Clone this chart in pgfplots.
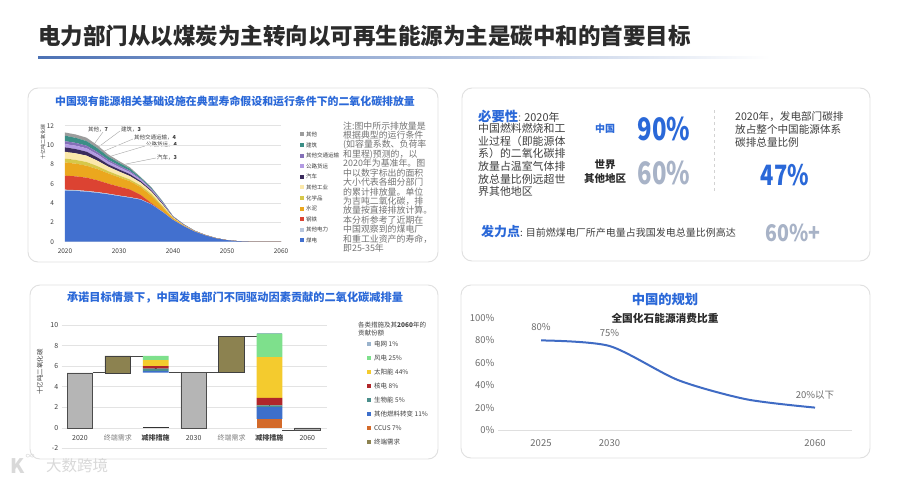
\documentclass[border=0pt]{standalone}
\usepackage{fontspec}
\setmainfont{Noto Sans CJK SC}
\usepackage{graphicx}
\usepackage{pgfplots}
\usepackage{pgfplotstable}
\pgfplotsset{compat=1.18}
\usetikzlibrary{arrows.meta}

\definecolor{ttl}{HTML}{2B2B2B}
\definecolor{hblue}{HTML}{2A68D8}
\definecolor{txt}{HTML}{404040}
\definecolor{pale}{HTML}{A8B3C7}
\definecolor{panel}{HTML}{E0E0E0}
% area colours
\definecolor{cCoal}{HTML}{4270CF}
\definecolor{cOPow}{HTML}{B9C7DD}
\definecolor{cSteel}{HTML}{DC4332}
\definecolor{cCement}{HTML}{EBA71E}
\definecolor{cChem}{HTML}{D6C84A}
\definecolor{cOInd}{HTML}{FBE8AA}
\definecolor{cCar}{HTML}{3A2B5C}
\definecolor{cTruck}{HTML}{B39BE3}
\definecolor{cOTrans}{HTML}{8470B8}
\definecolor{cBldg}{HTML}{3B8E86}
\definecolor{cOther}{HTML}{9C9C9C}
% bar colours
\definecolor{bGray}{HTML}{B5B5B5}
\definecolor{bOlive}{HTML}{8C8250}
\definecolor{bWind}{HTML}{7EE08C}
\definecolor{bSolar}{HTML}{F4CB2E}
\definecolor{bNuc}{HTML}{B0262A}
\definecolor{bBio}{HTML}{4B8F8C}
\definecolor{bFuel}{HTML}{3D6FCB}
\definecolor{bCCUS}{HTML}{D36A2A}
\definecolor{bGrid}{HTML}{9AB3CC}
\definecolor{lineblue}{HTML}{3F6BC4}

\newcommand{\fs}[1]{\fontsize{#1}{#1}\selectfont}

% emissions by sector, Gt CO2 (layer thickness)
\pgfplotstableread{
yr coal opow steel cement chem oind car truck otrans bldg other
2020 5.28 0.10 1.45 1.37 0.40 0.70 0.46 0.34 0.30 0.57 0.33
2022 5.25 0.09 1.42 1.31 0.39 0.68 0.44 0.35 0.29 0.52 0.35
2024 5.17 0.08 1.37 1.24 0.38 0.66 0.41 0.35 0.27 0.47 0.36
2026 5.05 0.08 1.22 1.16 0.31 0.56 0.33 0.32 0.24 0.40 0.30
2028 4.90 0.07 1.03 1.07 0.23 0.46 0.24 0.28 0.20 0.32 0.23
2030 4.72 0.06 0.92 0.96 0.20 0.40 0.22 0.24 0.17 0.27 0.19
2032 4.55 0.06 0.80 0.85 0.18 0.35 0.20 0.20 0.15 0.22 0.14
2034 4.35 0.05 0.45 0.80 0.17 0.30 0.15 0.14 0.10 0.13 0.06
2036 3.85 0.03 0.10 0.75 0.20 0.25 0.12 0.10 0.08 0.10 0.05
2038 3.10 0.03 0.02 0.45 0.12 0.18 0.10 0.08 0.06 0.07 0.04
2040 2.25 0.02 0.00 0.15 0.05 0.06 0.04 0.03 0.02 0.02 0.01
2042 1.60 0.01 0.00 0.06 0.02 0.04 0.03 0.02 0.01 0.01 0.00
2044 1.05 0.01 0.00 0.02 0.01 0.02 0.01 0.01 0.00 0.01 0.00
2046 0.65 0.01 0.00 0.01 0.00 0.01 0.01 0.01 0.00 0.00 0.00
2048 0.34 0.00 0.00 0.01 0.00 0.01 0.01 0.00 0.00 0.00 0.00
2050 0.16 0 0 0 0 0 0 0 0 0 0
2052 0.06 0 0 0 0 0 0 0 0 0 0
2054 0.02 0 0 0 0 0 0 0 0 0 0
2056 0.005 0 0 0 0 0 0 0 0 0 0
2058 0 0 0 0 0 0 0 0 0 0 0
2060 0 0 0 0 0 0 0 0 0 0 0
}\emis

% waterfall: 2020, demand, measures, 2030, demand, measures, 2060
\pgfplotstableread{
x base total ccus fuel bio nuc solar wind grid demand
0 0 5.35 0 0 0 0 0 0 0 0
1 5.35 0 0 0 0 0 0 0 0 1.65
2 5.36 0 0 0.15 0.24 0.25 0.57 0.43 0 0
3 0 5.40 0 0 0 0 0 0 0 0
4 5.40 0 0 0 0 0 0 0 0 3.50
5 -0.29 0 0.87 1.14 0.16 0.75 3.96 2.27 0.04 0
6 0 -0.22 0 0 0 0 0 0 0 0
}\wf

\pgfplotsset{every axis/.append style={/pgf/number format/assume math mode=true}}

\begin{document}
\begin{tikzpicture}
\begin{scope}[x=1pt,y=-1pt]
\fill[white] (0,0) rectangle (900,482);
\useasboundingbox (0,0) rectangle (900,482);

% main title
\node[anchor=west, inner sep=0, text=ttl, font=\fs{22.5}\bfseries] at (38,36) {电力部门从以煤炭为主转向以可再生能源为主是碳中和的首要目标};
\shade[left color=hblue!60!gray, right color=white] (38,56) rectangle (770,58);

% panels
\foreach \a/\b/\c/\d in {28/88/438/262, 462/88/870/261, 30/285/438/459, 461/285/870/458}{
  \draw[panel, line width=0.9pt, rounded corners=10pt, fill=white] (\a,\b) rectangle (\c,\d);
}

% ---- top left panel
\node[text=hblue, font=\fs{10.9}\bfseries] at (235,101) {中国现有能源相关基础设施在典型寿命假设和运行条件下的二氧化碳排放量};
\node[rotate=90, text=txt, font=\fs{5}] at (43,142) {十亿吨二氧化碳};
\foreach \n/\c [count=\i from 0] in {其他/cOther, 建筑/cBldg, 其他交通运输/cOTrans, 公路货运/cTruck, 汽车/cCar, 其他工业/cOInd, 化学品/cChem, 水泥/cCement, 钢铁/cSteel, 其他电力/cOPow, 煤电/cCoal}{
  \fill[\c] (300,{132.3+10.6*\i}) rectangle ++(4,4);
  \node[anchor=west, inner sep=0, text=txt, font=\fs{5.5}] at (306,{134.3+10.6*\i}) {\n};
}
\foreach \t [count=\i from 0] in {{注:图中所示排放量是}, {根据典型的运行条件}, {(如容量系数、负荷率}, {和里程)预测的，以}, {2020年为基准年。图}, {中以数字标出的面积}, {大小代表各细分部门}, {的累计排放量。单位}, {为吉吨二氧化碳，排}, {放量按直接排放计算。}, {本分析参考了近期在}, {中国观察到的煤电厂}, {和重工业资产的寿命，}, {即25-35年}}{
  \node[anchor=base west, inner sep=0, text=gray!90!black, font=\fs{8.9}] at (343,{129.1+9.43*\i}) {\t};
}
% callouts
\draw[gray!70, line width=0.4pt] (103,132) -- (92,147);
\draw[gray!70, line width=0.4pt] (120,131) -- (97,148);
\draw[gray!70, line width=0.4pt] (133,139) -- (102,152);
\draw[gray!70, line width=0.4pt] (145,146) -- (108,157);
\draw[gray!70, line width=0.4pt] (156,158) -- (116,166);
\begin{scope}[font=\fs{5.5}, text=txt, inner sep=0]
\node[anchor=west] at (88,129) {其他，\textbf{7}};
\node[anchor=west] at (121,129) {建筑，\textbf{3}};
\node[anchor=west] at (134,137) {其他交通运输，\textbf{4}};
\node[anchor=west] at (146,144) {公路货运，\textbf{4}};
\node[anchor=west] at (157,157) {汽车，\textbf{3}};
\end{scope}

% ---- top right panel
\node[anchor=base west, inner sep=0] at (478,121) {{\fs{13.3}\bfseries\color{hblue}必要性}{\fs{10.9}\color{gray}: }{\fs{10.9}\color{txt}2020年}};
\foreach \t [count=\i from 1] in {{中国燃料燃烧和工}, {业过程（即能源体}, {系）的二氧化碳排}, {放量占温室气体排}, {放总量比例远超世}, {界其他地区}}{
  \node[anchor=base west, inner sep=0, text=txt, font=\fs{10.9}] at (478,{120.1+12.6*\i}) {\t};
}
\node[text=hblue, font=\fs{10}\bfseries] at (605,128.3) {中国};
\node[text=ttl, font=\fs{10.5}\bfseries] at (605,165) {世界};
\node[text=ttl, font=\fs{10.5}\bfseries] at (605,179) {其他地区};
\node[text=hblue, font=\fs{31}\bfseries] at (664,129) {\scalebox{0.77}[1]{90\%}};
\node[text=pale, font=\fs{31}\bfseries] at (664,173) {\scalebox{0.77}[1]{60\%}};
\draw[gray!35, dashed, line width=0.7pt] (714,110) -- (714,193);
\foreach \t [count=\i from 0] in {{2020年，发电部门碳排}, {放占整个中国能源体系}, {碳排总量比例}}{
  \node[anchor=base west, inner sep=0, text=txt, font=\fs{10.6}] at (735,{120.7+12.8*\i}) {\t};
}
\node[text=hblue, font=\fs{28}\bfseries] at (785,175) {\scalebox{0.78}[1]{47\%}};
\node[anchor=base west, inner sep=0] at (481,236.6) {{\fs{13}\bfseries\color{hblue}发力点}{\fs{10}\color{txt}: 目前燃煤电厂所产电量占我国发电总量比例高达}};
\node[text=pale, font=\fs{23}\bfseries] at (793,233) {\scalebox{0.85}[1]{60\%+}};

% ---- bottom left panel
\node[text=hblue, font=\fs{11.2}\bfseries] at (235,297.3) {承诺目标情景下，中国发电部门不同驱动因素贡献的二氧化碳减排量};
\node[rotate=90, text=txt, font=\fs{6.5}] at (40,372) {十亿吨二氧化碳};
\node[anchor=west, inner sep=0, text=txt, font=\fs{6.5}] at (358,325) {各类措施及其\textbf{2060}年的};
\node[anchor=west, inner sep=0, text=txt, font=\fs{6.5}] at (358,333.5) {贡献份额};
\foreach \n/\c [count=\i from 0] in {电网 1\%/bGrid, 风电 25\%/bWind, 太阳能 44\%/bSolar, 核电 8\%/bNuc, 生物能 5\%/bBio, 其他燃料转变 11\%/bFuel, CCUS 7\%/bCCUS, 终端需求/bOlive}{
  \fill[\c] (367,{342.3+13.9*\i}) rectangle ++(4,4);
  \node[anchor=west, inner sep=0, text=txt, font=\fs{6.5}] at (374,{344.3+13.9*\i}) {\n};
}

% ---- bottom right panel
\node[text=hblue, font=\fs{13.3}\bfseries] at (665,299) {中国的规划};
\node[text=ttl, font=\fs{10.7}\bfseries] at (665,318) {全国化石能源消费比重};

% watermark
\node[text=gray!30, font=\fs{20}\bfseries] at (18,466) {K};
\node[text=gray!30, font=\fs{9}] at (30,457) {∞};
\node[anchor=west, inner sep=0, text=gray!30, font=\fs{15.5}] at (46,466) {大数跨境};
\end{scope}

% ---- stacked area chart
\begin{axis}[at={(65pt,-241.7pt)}, anchor=south west, scale only axis,
  width=216pt, height=116pt,
  xmin=2020, xmax=2060, ymin=0, ymax=12, stack plots=y,
  xtick={2020,2030,2040,2050,2060}, xticklabels={2020,2030,2040,2050,2060},
  ytick={0,2,...,12},
  axis line style={draw=none}, major tick length=0pt,
  ymajorgrids, grid style={gray!22, line width=0.5pt},
  tick label style={font=\fs{6.5}, text=txt},
  xticklabel style={yshift=-3.5pt}, yticklabel style={xshift=-7.5pt},
  clip=false]
\addplot[fill=cCoal, draw=none] table[x=yr,y=coal]{\emis} \closedcycle;
\addplot[fill=cOPow, draw=none] table[x=yr,y=opow]{\emis} \closedcycle;
\addplot[fill=cSteel, draw=none] table[x=yr,y=steel]{\emis} \closedcycle;
\addplot[fill=cCement, draw=none] table[x=yr,y=cement]{\emis} \closedcycle;
\addplot[fill=cChem, draw=none] table[x=yr,y=chem]{\emis} \closedcycle;
\addplot[fill=cOInd, draw=none] table[x=yr,y=oind]{\emis} \closedcycle;
\addplot[fill=cCar, draw=none] table[x=yr,y=car]{\emis} \closedcycle;
\addplot[fill=cTruck, draw=none] table[x=yr,y=truck]{\emis} \closedcycle;
\addplot[fill=cOTrans, draw=none] table[x=yr,y=otrans]{\emis} \closedcycle;
\addplot[fill=cBldg, draw=none] table[x=yr,y=bldg]{\emis} \closedcycle;
\addplot[fill=cOther, draw=none] table[x=yr,y=other]{\emis} \closedcycle;
\node[text=white, font=\fs{6}] at (axis cs:2024.3,2.6) {101};
\node[text=white, font=\fs{5}] at (axis cs:2022.2,5.2) {3};
\node[text=red!15, font=\fs{6}] at (axis cs:2021.3,6.0) {15};
\node[text=ttl, font=\fs{6}\bfseries] at (axis cs:2021.3,7.3) {18};
\node[text=ttl, font=\fs{6}\bfseries] at (axis cs:2020.9,8.35) {8};
\node[text=ttl, font=\fs{6}\bfseries] at (axis cs:2020.8,9.05) {8};
\end{axis}

% ---- waterfall chart
\begin{axis}[at={(61.7pt,-448.3pt)}, anchor=south west, scale only axis,
  width=265pt, height=123.3pt,
  xmin=-0.48, xmax=6.51, ymin=-2, ymax=10,
  ybar stacked, bar width=25.7pt,
  xtick={0,...,6},
  xticklabels={2020,{\color{gray}终端需求},{\bfseries 减排措施},2030,{\color{gray}终端需求},{\bfseries 减排措施},2060},
  ytick={-2,0,...,10},
  axis line style={draw=none}, major tick length=0pt,
  ymajorgrids, grid style={gray!22, line width=0.5pt},
  tick label style={font=\fs{7}, text=txt},
  xticklabel style={anchor=center, yshift=10.6pt},
  clip=false]
\addplot[fill=none, draw=none] table[x=x,y=base]{\wf};
\addplot[fill=bGray, draw=gray!60!black, line width=0.5pt] table[x=x,y=total]{\wf};
\addplot[fill=bCCUS, draw=none] table[x=x,y=ccus]{\wf};
\addplot[fill=bFuel, draw=none] table[x=x,y=fuel]{\wf};
\addplot[fill=bBio, draw=none] table[x=x,y=bio]{\wf};
\addplot[fill=bNuc, draw=none] table[x=x,y=nuc]{\wf};
\addplot[fill=bSolar, draw=none] table[x=x,y=solar]{\wf};
\addplot[fill=bWind, draw=none] table[x=x,y=wind]{\wf};
\addplot[fill=bGrid, draw=none] table[x=x,y=grid]{\wf};
\addplot[fill=bOlive, draw=gray!50!black, line width=0.5pt] table[x=x,y=demand]{\wf};
% connectors
\draw[gray!55!black, line width=0.6pt] (axis cs:0.339,5.35) -- (axis cs:0.661,5.35);
\draw[gray!55!black, line width=0.6pt] (axis cs:1.339,7.0) -- (axis cs:1.661,7.0);
\draw[gray!55!black, line width=0.6pt] (axis cs:2.339,5.36) -- (axis cs:2.661,5.36);
\draw[gray!55!black, line width=0.6pt] (axis cs:3.339,5.40) -- (axis cs:3.661,5.40);
\draw[gray!55!black, line width=0.6pt] (axis cs:4.339,8.9) -- (axis cs:4.661,8.9);
\draw[gray!55!black, line width=0.6pt] (axis cs:5.339,-0.22) -- (axis cs:5.661,-0.22);
% arrows
\draw[black, line width=0.5pt, -{Latex[length=3pt,width=2.5pt]}] (axis cs:1,5.35) -- (axis cs:1,6.8);
\draw[black, line width=0.5pt] (axis cs:1,6.8) -- (axis cs:1,7.0);
\draw[black, line width=0.5pt, -{Latex[length=3pt,width=2.5pt]}] (axis cs:2,7.0) -- (axis cs:2,5.55);
\draw[black, line width=0.5pt, -{Latex[length=3pt,width=2.5pt]}] (axis cs:4,5.4) -- (axis cs:4,8.7);
\draw[black, line width=0.5pt] (axis cs:4,8.7) -- (axis cs:4,8.9);
\draw[black, line width=0.5pt, -{Latex[length=3pt,width=2.5pt]}] (axis cs:5,8.9) -- (axis cs:5,-0.05);
\draw[gray!40!black, line width=0.8pt] (axis cs:1.661,0) -- (axis cs:2.339,0);
\end{axis}

% ---- line chart
\begin{axis}[at={(498pt,-430pt)}, anchor=south west, scale only axis,
  width=354pt, height=112pt,
  xmin=-0.628, xmax=4.54, ymin=0, ymax=100,
  xtick={0,1,4}, xticklabels={2025,2030,2060},
  ytick={0,20,...,100}, yticklabel={\pgfmathprintnumber{\tick}\%},
  axis line style={draw=none}, major tick length=0pt,
  tick label style={font=\fs{9.5}, text=gray!85!black},
  xticklabel style={anchor=center, yshift=-13pt},
  clip=false]
\draw[gray!25, line width=0.8pt] (axis cs:-0.628,0) -- (axis cs:4.54,0);
\addplot[lineblue, line width=2pt, smooth, tension=0.45] coordinates {(0,80) (1,75) (2,44.6) (3,27.4) (4,20)};
\node[text=gray!85!black, font=\fs{9.5}, yshift=13pt] at (axis cs:0,80) {80\%};
\node[text=gray!85!black, font=\fs{9.5}, yshift=13pt] at (axis cs:1,75) {75\%};
\node[text=gray!85!black, font=\fs{9.5}, yshift=12.6pt] at (axis cs:4,20) {20\%以下};
\end{axis}
\end{tikzpicture}
\end{document}
